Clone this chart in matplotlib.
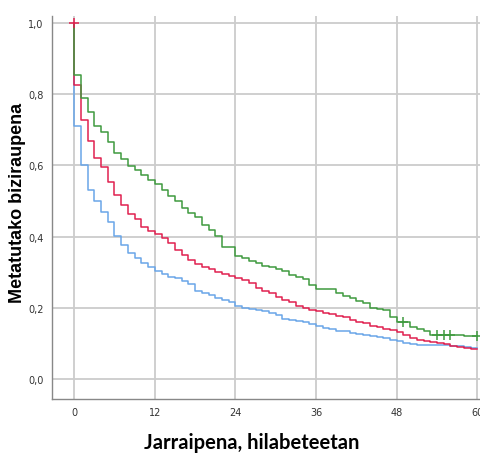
import numpy as np
import matplotlib.pyplot as plt

# months of follow-up; step drops happen at each integer month
months = list(range(0, 61))

green_surv = [0.855, 0.791, 0.751, 0.712, 0.693, 0.667, 0.635, 0.618, 0.599, 0.587,
              0.574, 0.558, 0.547, 0.531, 0.513, 0.499, 0.482, 0.466, 0.456, 0.433,
              0.419, 0.401, 0.370, 0.370, 0.346, 0.340, 0.332, 0.326, 0.318, 0.314,
              0.309, 0.305, 0.293, 0.288, 0.280, 0.265, 0.253, 0.253, 0.253, 0.243,
              0.234, 0.227, 0.220, 0.213, 0.201, 0.197, 0.195, 0.175, 0.159, 0.159,
              0.147, 0.140, 0.134, 0.125, 0.125, 0.125, 0.125, 0.125, 0.120, 0.120,
              0.120]
red_surv = [0.826, 0.728, 0.669, 0.621, 0.595, 0.554, 0.517, 0.490, 0.463, 0.449,
            0.427, 0.417, 0.407, 0.396, 0.381, 0.363, 0.348, 0.335, 0.323, 0.315,
            0.309, 0.301, 0.295, 0.290, 0.285, 0.278, 0.271, 0.256, 0.248, 0.241,
            0.230, 0.223, 0.216, 0.205, 0.200, 0.194, 0.190, 0.187, 0.183, 0.178,
            0.173, 0.167, 0.161, 0.157, 0.150, 0.145, 0.142, 0.137, 0.133, 0.124,
            0.116, 0.110, 0.106, 0.103, 0.100, 0.098, 0.094, 0.090, 0.087, 0.085,
            0.084]
blue_surv = [0.711, 0.601, 0.532, 0.501, 0.470, 0.442, 0.403, 0.377, 0.353, 0.339,
             0.325, 0.316, 0.304, 0.295, 0.287, 0.285, 0.276, 0.267, 0.248, 0.242,
             0.237, 0.229, 0.223, 0.216, 0.206, 0.200, 0.197, 0.195, 0.190, 0.185,
             0.180, 0.170, 0.166, 0.162, 0.159, 0.154, 0.150, 0.144, 0.140, 0.136,
             0.134, 0.130, 0.126, 0.123, 0.120, 0.117, 0.114, 0.110, 0.106, 0.101,
             0.098, 0.097, 0.097, 0.096, 0.096, 0.095, 0.094, 0.092, 0.089, 0.088,
             0.087]

# censored observations (+ marks)
green_cens_t = [49, 54, 55, 56, 60]
red_cens_t = [0]

xticks = [0, 12, 24, 36, 48, 60]
yticks = [0.0, 0.2, 0.4, 0.6, 0.8, 1.0]
ytick_labels = ["0,0", "0,2", "0,4", "0,6", "0,8", "1,0"]

c_green = "#3f9a3f"
c_red = "#e0204f"
c_blue = "#6aa6e8"


def km_xy(surv):
    x = [0] + months
    y = [1.0] + surv
    return x, y


def surv_at(surv, t):
    return surv[months.index(t)]


fig = plt.figure(figsize=(4.8, 4.56), dpi=100)
ax = fig.add_axes([52 / 480, 56 / 456, 428 / 480, 383 / 456])

for surv, col in [(blue_surv, c_blue), (red_surv, c_red), (green_surv, c_green)]:
    x, y = km_xy(surv)
    ax.step(x, y, where="post", color=col, lw=1.1, zorder=3)

ax.plot(green_cens_t, [surv_at(green_surv, t) for t in green_cens_t], "+",
        color=c_green, ms=7, mew=1.1, zorder=4)
ax.plot(red_cens_t, [1.0 for t in red_cens_t], "+", color=c_red, ms=7, mew=1.1, zorder=4)

ax.set_xlim(-3.3, 60.4)
ax.set_ylim(-0.056, 1.02)
ax.set_xticks(xticks)
ax.set_xticklabels([str(t) for t in xticks])
ax.set_yticks(yticks)
ax.set_yticklabels(ytick_labels)
ax.grid(True, color="#cccccc", lw=1.3, zorder=1)
ax.tick_params(length=0, labelsize=7, labelcolor="#333333", pad=6)

for s in ["top", "right"]:
    ax.spines[s].set_visible(False)
for s in ["left", "bottom"]:
    ax.spines[s].set_color("#888888")
    ax.spines[s].set_linewidth(1.0)

ax.set_ylabel("Metatutako biziraupena", fontsize=13, fontweight="bold",
              family=["Liberation Sans", "DejaVu Sans"])
ax.yaxis.set_label_coords(-0.060, 0.514)
ax.set_xlabel("Jarraipena, hilabeteetan", fontsize=14.5, fontweight="bold",
              family=["Lato", "DejaVu Sans"])
ax.xaxis.set_label_coords(0.467, -0.086)

fig.savefig("out.png", dpi=100)
